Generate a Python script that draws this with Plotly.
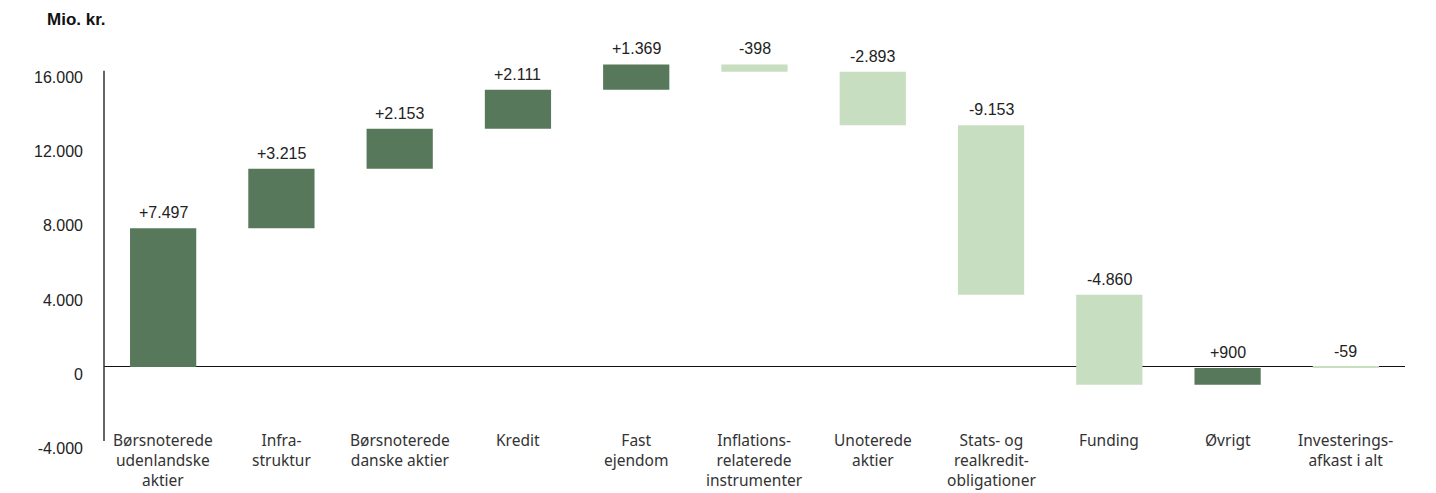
import numpy as np
import plotly.graph_objects as go

categories = [
    "Børsnoterede<br>udenlandske<br>aktier",
    "Infra-<br>struktur",
    "Børsnoterede<br>danske aktier",
    "Kredit",
    "Fast<br>ejendom",
    "Inflations-<br>relaterede<br>instrumenter",
    "Unoterede<br>aktier",
    "Stats- og<br>realkredit-<br>obligationer",
    "Funding",
    "Øvrigt",
    "Investerings-<br>afkast i alt",
]
changes = [7497, 3215, 2153, 2111, 1369, -398, -2893, -9153, -4860, 900, -59]
measures = ["relative"] * 10 + ["total"]
value_labels = ["+7.497", "+3.215", "+2.153", "+2.111", "+1.369", "-398",
                "-2.893", "-9.153", "-4.860", "+900", "-59"]
y_tickvals = [-4000, 0, 4000, 8000, 12000, 16000]
y_ticktext = ["-4.000", "0", "4.000", "8.000", "12.000", "16.000"]

DARK = "rgb(87,120,90)"
LIGHT = "rgb(200,222,192)"
NUM_FONT = "Liberation Sans, Arial, sans-serif"
CAT_FONT = "Noto Sans, sans-serif"

x = list(range(len(categories)))

fig = go.Figure()
fig.add_trace(go.Waterfall(
    x=x,
    y=changes,
    measure=measures,
    width=0.56,
    increasing=dict(marker=dict(color=DARK)),
    decreasing=dict(marker=dict(color=LIGHT)),
    totals=dict(marker=dict(color=LIGHT)),
    connector=dict(visible=False),
    textinfo="none",
    hoverinfo="skip",
))

# bar tops for label placement (derived from the data)
cum = np.cumsum(changes[:-1])
starts = np.concatenate([[0], cum[:-1]])
ends = cum
tops = list(np.maximum(starts, ends)) + [max(0, changes[-1])]

for i, lab in enumerate(value_labels):
    fig.add_annotation(x=x[i], y=tops[i], xref="x", yref="y", text=lab,
                       showarrow=False, yanchor="bottom", yshift=5,
                       font=dict(family=NUM_FONT, size=16, color="#222"))

for i, c in enumerate(categories):
    fig.add_annotation(x=x[i], y=0, xref="x", yref="paper", text=c,
                       showarrow=False, yanchor="top", yshift=13, borderpad=0,
                       font=dict(family=CAT_FONT, size=15.5, color="#333"))

fig.add_annotation(xref="paper", yref="paper", x=(45 - 104) / 1301, y=1 + (43 - 20) / 398,
                   text="<b>Mio. kr.</b>", showarrow=False, xanchor="left", yanchor="middle",
                   font=dict(family=NUM_FONT, size=17, color="#111"))

# y-axis line
fig.add_shape(type="line", xref="paper", yref="y", x0=0, x1=0, y0=-4000, y1=16000,
              line=dict(color="#333", width=1.5))

fig.update_layout(
    width=1436, height=493,
    margin=dict(l=104, r=31, t=43, b=52),
    plot_bgcolor="white", paper_bgcolor="white",
    showlegend=False,
    xaxis=dict(range=[-0.5, 10.5], showticklabels=False, showgrid=False,
               zeroline=False, showline=False, ticks=""),
    yaxis=dict(range=[-4000, 17500], tickvals=y_tickvals, ticktext=y_ticktext,
               showgrid=False, zeroline=True, zerolinecolor="#111", zerolinewidth=1,
               showline=False, ticks="", ticklabelstandoff=20, ticklabelshift=7,
               tickfont=dict(family=NUM_FONT, size=16, color="#222")),
)

fig.write_html("out.html")
